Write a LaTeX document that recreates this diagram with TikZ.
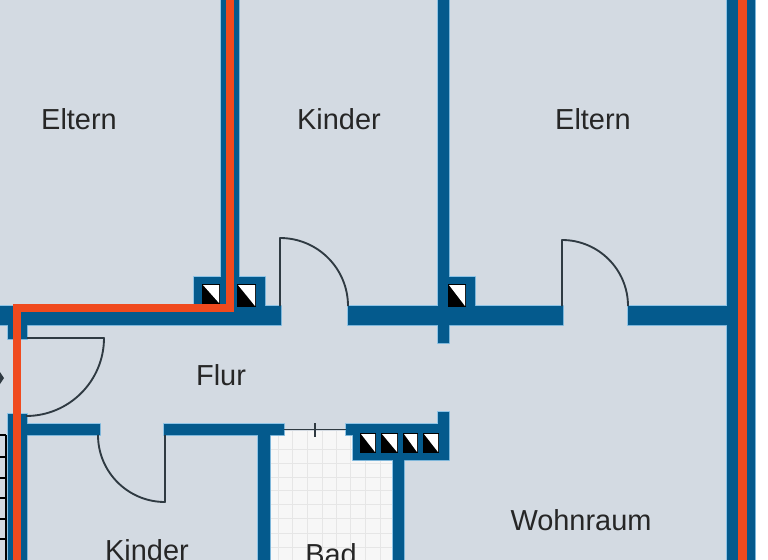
\documentclass[tikz,border=0pt]{standalone}
\usepackage{fontspec}
\setmainfont{Liberation Sans}
\definecolor{floorc}{HTML}{D3DAE2}
\definecolor{wallc}{HTML}{045A8D}
\definecolor{edgec}{HTML}{8FC4E6}
\definecolor{redc}{HTML}{F04A1E}
\definecolor{linec}{HTML}{2F3A42}
\definecolor{gridc}{HTML}{E6E6E6}
\tikzset{
 doorline/.style={draw=linec,line width=1.4pt,line join=round},
 redline/.style={draw=redc,line width=6pt,line join=miter},
 roomlabel/.style={font=\fontsize{21.7}{24}\selectfont,text=black!85,inner sep=0pt,anchor=base},
}
\newcommand{\flueat}[4]{%
 \fill[black] (#1,#2) rectangle (#3,#4);
 \fill[white] (#1+1,#2+1) -- (#3-1,#2+1) -- (#3-1,#4-1) -- cycle;
}
\newcommand{\wallshapes}{%
 (221,0) rectangle (239,306)
 (194,277) rectangle (265,306)
 (0,306) rectangle (281,325)
 (348,306) rectangle (563,325)
 (628,306) rectangle (727,325)
 (438,0) rectangle (449,343)
 (449,277) rectangle (475,306)
 (727,0) rectangle (755,560)
 (8,325) rectangle (27,339)
 (8,414) rectangle (27,560)
 (27,424) rectangle (100,435)
 (164,424) rectangle (284,435)
 (258,435) rectangle (270,560)
 (346,424) rectangle (449,435)
 (353,435) rectangle (449,460)
 (438,412) rectangle (449,424)
 (393,460) rectangle (404,560)
}
\begin{document}
\begin{tikzpicture}[x=0.75pt,y=-0.75pt]
\useasboundingbox (0,0) rectangle (768,560);
\fill[white] (0,0) rectangle (768,560);
\fill[floorc] (0,0) rectangle (755,560);
% bathroom
\fill[white!97!black] (270,431) rectangle (393,560);
\foreach \xx in {278,292,307,322,336,350,365,380}
  \draw[gridc,line width=0.7pt] (\xx,431) -- (\xx,560);
\foreach \yy in {449,463,477,490,504,518,533,547}
  \draw[gridc,line width=0.7pt] (270,\yy) -- (393,\yy);
% walls
\draw[edgec,fill=edgec,line width=0.9pt] \wallshapes;
\fill[wallc] \wallshapes;
% flues
\flueat{202}{284}{220}{304}
\flueat{237}{284}{256}{307}
\flueat{448}{284}{466}{307}
\flueat{360}{433}{376}{453}
\flueat{381}{433}{398}{453}
\flueat{403}{433}{418}{453}
\flueat{423}{433}{439}{453}
% doors
\draw[doorline] (280,306) -- (280,238) arc[start angle=-90,end angle=0,radius=68];
\draw[doorline] (562,306) -- (562,240) arc[start angle=-90,end angle=0,radius=66];
\draw[doorline] (27,338) -- (104,338) arc[start angle=0,end angle=90,radius=78];
\draw[doorline] (165,435) -- (165,502) arc[start angle=90,end angle=180,radius=67];
\draw[doorline] (284,429.5) -- (346,429.5);
\draw[doorline] (315,423) -- (315,437);
% stairs
\draw[line width=0.9pt,black] (6,435) -- (6,560);
\foreach \yy in {435,457,478,498,519,539} \draw[line width=0.9pt,black] (0,\yy) -- (6,\yy);
\fill[linec] (0,372) -- (4,378) -- (0,384) -- cycle;
% red
\draw[redline] (17,560) -- (17,308) -- (230,308) -- (230,0);
\fill[redc] (738,0) rectangle (747,560);
% labels
\node[roomlabel] (l1) at (79,129) {Eltern};
\node[roomlabel] (l2) at (339,129) {Kinder};
\node[roomlabel] (l3) at (593,129) {Eltern};
\node[roomlabel] (l4) at (221,385) {Flur};
\node[roomlabel] (l5) at (581,530) {Wohnraum};
\node[roomlabel] (l6) at (147,560) {Kinder};
\node[roomlabel] (l7) at (331,564) {Bad};
\end{tikzpicture}
\end{document}
